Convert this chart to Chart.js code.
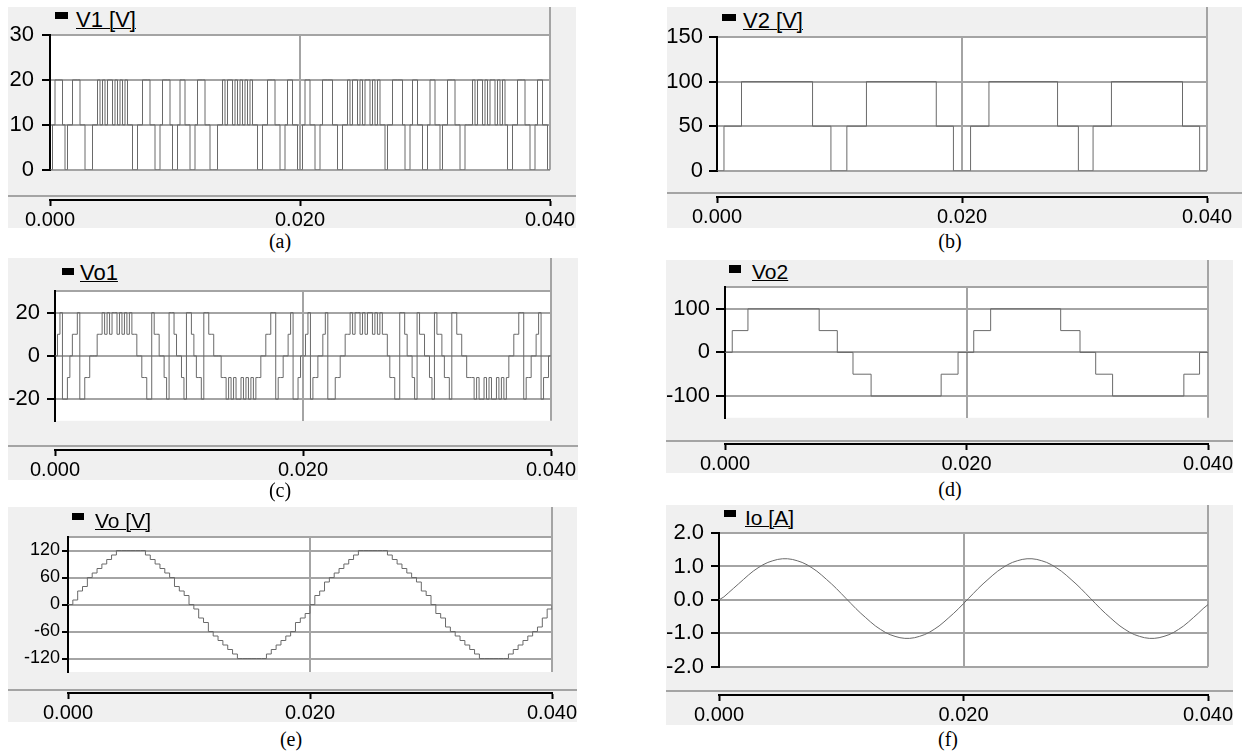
<!DOCTYPE html>
<html>
<head>
<meta charset="utf-8">
<script src="https://cdn.jsdelivr.net/npm/chart.js@4.4.0/dist/chart.umd.min.js"></script>
<style>
  body { margin: 0; background: #fff; width: 1242px; height: 753px; position: relative; overflow: hidden;
         font-family: "Liberation Sans", Arial, sans-serif; }
  .panel { position: absolute; background: #f0f0f0; overflow: hidden; }
  .panel canvas { position: absolute; }
  .sep { position: absolute; left: 0; right: 0; height: 2px; background: #a4a4a4; }
  .sq { position: absolute; background: #000; }
  .key { position: absolute; color: #000; text-decoration: underline; text-decoration-thickness: 1px; white-space: nowrap; }
  .cap { position: absolute; font-family: "Liberation Serif", "Times New Roman", serif; font-size: 20px;
         line-height: 20px; transform: translateX(-50%); }
</style>
</head>
<body>
<script>
// time axis, seconds
const tMax = 0.04;
const timeTicks = [0, 0.02, 0.04];

// y tick values per plot
const v1Ticks = [0, 10, 20, 30];
const v2Ticks = [0, 50, 100, 150];
const vo1Ticks = [-20, 0, 20];
const vo2Ticks = [-100, 0, 100];
const voTicks = [-120, -60, 0, 60, 120];
const ioTicks = [-2, -1, 0, 1, 2];

// switching traces, one value per 0.2 ms
const swDt = 0.0002;
const v1Vals = [
  0,10,20,20,20,10,0,10,10,20, 20,20,10,10,0,0,0,10,10,20, 10,20,10,20,20,10,20,10,20,10,
  20,10,10,0,0,10,10,20,20,20, 10,10,0,0,10,20,20,20,10,0,
  0,10,20,20,10,10,0,0,10,20, 20,20,10,10,0,0,0,10,10,20, 10,20,20,10,20,10,20,10,20,10,
  20,10,10,0,0,10,10,20,20,20, 10,10,0,0,10,20,20,10,10,0,
  0,10,20,20,10,10,0,0,10,20, 20,20,20,10,10,0,0,10,10,20, 10,20,20,10,20,10,20,20,10,20,
  10,20,10,10,0,10,10,20,20,20, 20,10,0,0,10,20,20,10,10,0,
  0,10,20,20,10,10,0,10,10,20, 20,20,10,10,0,0,10,10,10,20, 10,20,20,10,20,10,20,20,10,20,
  10,20,10,0,0,10,10,20,20,20, 10,10,0,0,10,20,20,10,10,0,
  0
];
const vo1Vals = [
  0,10,20,-20,-20,-10,0,10,10,20, -20,-20,-10,-10,0,0,0,10,10,20, 10,20,10,20,20,10,20,10,20,10,
  20,10,10,0,0,-10,-10,-20,-20,20, 10,10,0,0,-10,-20,20,20,10,0,
  0,-10,-20,20,20,10,0,-10,-10,-20, 20,20,10,10,0,0,0,-10,-10,-20, -10,-20,-10,-20,-20,-10,-20,-10,-20,-10,
  -20,-10,-10,0,0,10,10,20,20,-20, -10,-10,0,0,10,20,-20,-20,-10,0,
  0,10,20,-20,-10,-10,0,0,10,20, -20,-20,-20,-10,-10,0,0,10,10,20, 10,20,20,10,20,10,20,20,10,20,
  10,20,10,10,0,-10,-10,-20,-20,20, 20,10,0,0,-10,-20,20,10,10,0,
  0,-10,-20,20,10,10,0,-10,-10,-20, 20,20,10,10,0,0,-10,-10,-10,-20, -10,-20,-20,-10,-20,-10,-20,-20,-10,-20,
  -10,-20,-10,0,0,10,10,20,20,-20, -10,-10,0,0,10,20,-20,-10,-10,0,
  0
];

// stepped traces given by their switching instants
const v2Times = [0, 0.00057, 0.0020, 0.0078, 0.0093, 0.0106, 0.0122, 0.0179, 0.0193,
                 0.0207, 0.0222, 0.0278, 0.0295, 0.0307, 0.0322, 0.0380, 0.0394, 0.04];
const v2Vals = [0, 50, 100, 50, 0, 50, 100, 50, 0, 50, 100, 50, 0, 50, 100, 50, 0, 0];
const vo2Times = [0, 0.0006, 0.0019, 0.0078, 0.0093, 0.0106, 0.0121, 0.0179, 0.0193,
                  0.0206, 0.0220, 0.0278, 0.0294, 0.0307, 0.0321, 0.0380, 0.0393, 0.04];
const vo2Vals = [0, 50, 100, 50, 0, -50, -100, -50, 0, 50, 100, 50, 0, -50, -100, -50, 0, 0];

// output voltage and current, one value per 0.4 ms
const outDt = 0.0004;
const voVals = [
  0,10,30,40,60,70,80,90,100,110, 120,120,120,120,120,120,110,100,90,80, 70,60,40,30,20,
  0,-10,-30,-40,-60,-70,-80,-90,-100,-110, -120,-120,-120,-120,-120,-120,-110,-100,-90,-80, -70,-60,-40,-30,-20,
  0,20,30,50,60,70,80,90,100,110, 120,120,120,120,120,120,110,100,90,80, 70,60,50,30,20,
  0,-20,-30,-50,-60,-70,-80,-90,-100,-110, -120,-120,-120,-120,-120,-120,-110,-100,-90,-80, -70,-60,-50,-30,-10,
  0
];
const ioVals = [
  0.00,0.09,0.22,0.35,0.48,0.61,0.74,0.86,0.96,1.05, 1.12,1.17,1.21,1.23,1.23,1.21,1.17,1.12,1.05,0.96,
  0.86,0.74,0.61,0.48,0.34, 0.19,0.04,-0.11,-0.26,-0.40, -0.53,-0.66,-0.78,-0.88,-0.97, -1.04,-1.09,-1.13,-1.15,-1.15,
  -1.13,-1.09,-1.04,-0.97,-0.88, -0.78,-0.66,-0.53,-0.40,-0.26,
  -0.11,0.04,0.19,0.34,0.48,0.61,0.74,0.86,0.96,1.05, 1.12,1.17,1.21,1.23,1.23,1.21,1.17,1.12,1.05,0.96,
  0.86,0.74,0.61,0.48,0.34, 0.19,0.04,-0.11,-0.26,-0.40, -0.53,-0.66,-0.78,-0.88,-0.97, -1.04,-1.09,-1.13,-1.15,-1.15,
  -1.13,-1.09,-1.04,-0.97,-0.88, -0.78,-0.66,-0.53,-0.40,-0.26,
  -0.14
];

Chart.defaults.font.family = '"Liberation Sans", Arial, sans-serif';
Chart.defaults.color = '#000';

const gridGrey = '#a4a4a4';
const traceGrey = '#6a6a6a';

const byTime = (t, v) => t.map((x, i) => ({x, y: v[i]}));
const bySample = (dt, v) => v.map((y, i) => ({x: i * dt, y}));

// white plot area with the grey top and right edge
const plotFrame = {
  id: 'plotFrame',
  beforeDraw(chart) {
    const {ctx, chartArea: a} = chart;
    ctx.save();
    ctx.fillStyle = '#fff';
    ctx.fillRect(a.left, a.top, a.right - a.left, a.bottom - a.top);
    ctx.strokeStyle = gridGrey;
    ctx.lineWidth = 2;
    ctx.beginPath();
    ctx.moveTo(a.left, a.top);
    ctx.lineTo(a.right, a.top);
    ctx.moveTo(a.right, 0);
    ctx.lineTo(a.right, a.bottom);
    ctx.stroke();
    ctx.restore();
  }
};

function addPanel(p) {
  const [bl, bt, br, bb] = p.box;
  const [pl, pt, pr, pb] = p.plot;
  const div = document.createElement('div');
  div.className = 'panel';
  div.style.left = bl + 'px';
  div.style.top = bt + 'px';
  div.style.width = (br - bl) + 'px';
  div.style.height = (bb - bt) + 'px';
  document.body.appendChild(div);

  const sep = document.createElement('div');
  sep.className = 'sep';
  sep.style.top = (p.sepY - bt - 1) + 'px';
  div.appendChild(sep);

  const sq = document.createElement('div');
  sq.className = 'sq';
  sq.style.left = (p.key.sq[0] - bl) + 'px';
  sq.style.top = (p.key.sq[1] - bt) + 'px';
  sq.style.width = p.key.sq[2] + 'px';
  sq.style.height = p.key.sq[3] + 'px';
  div.appendChild(sq);

  const key = document.createElement('span');
  key.className = 'key';
  key.textContent = p.key.text;
  key.style.fontSize = p.key.size + 'px';
  key.style.lineHeight = p.key.size + 'px';
  key.style.left = (p.key.x - bl) + 'px';
  key.style.top = (p.key.base - bt - 0.85 * p.key.size) + 'px';
  div.appendChild(key);

  const main = document.createElement('canvas');
  main.width = br - bl;
  main.height = pb - bt + 14;
  main.style.left = '0px';
  main.style.top = '0px';
  div.appendChild(main);

  new Chart(main, {
    type: 'line',
    data: {
      datasets: [{
        data: p.data,
        stepped: p.stepped,
        borderColor: traceGrey,
        borderWidth: 1,
        pointRadius: 0,
        fill: false,
        tension: 0
      }]
    },
    options: {
      responsive: false,
      animation: false,
      events: [],
      layout: {padding: {left: 0, top: pt - bt, right: br - pr, bottom: 14}},
      plugins: {legend: {display: false}, tooltip: {enabled: false}},
      scales: {
        x: {
          type: 'linear', min: 0, max: tMax,
          afterBuildTicks: s => { s.ticks = [{value: timeTicks[1]}]; },
          afterFit: s => { s.height = 0; },
          ticks: {display: false},
          grid: {color: gridGrey, lineWidth: 2, drawTicks: false},
          border: {display: false}
        },
        y: {
          min: p.yMin, max: p.yMax,
          afterBuildTicks: s => { s.ticks = p.yTicks.map(value => ({value})); },
          afterFit: s => { s.width = pl - bl; },
          ticks: {font: {size: p.yFont}, padding: p.yPad, callback: v => v.toFixed(p.dec)},
          grid: {color: gridGrey, lineWidth: 2, tickLength: p.tick, tickColor: '#000', tickWidth: 2},
          border: {color: '#000', width: 2}
        }
      }
    },
    plugins: [plotFrame]
  });

  // time axis sits in its own strip under the separator
  const ax = document.createElement('canvas');
  ax.width = br - bl;
  ax.height = 41;
  ax.style.left = '0px';
  ax.style.top = (p.axisY - bt - 8) + 'px';
  div.appendChild(ax);

  new Chart(ax, {
    type: 'line',
    data: {datasets: []},
    options: {
      responsive: false,
      animation: false,
      events: [],
      layout: {padding: {left: pl - bl, right: br - pr, top: 0, bottom: 0}},
      plugins: {legend: {display: false}, tooltip: {enabled: false}},
      scales: {
        x: {
          type: 'linear', min: 0, max: tMax,
          afterBuildTicks: s => { s.ticks = timeTicks.map(value => ({value})); },
          afterFit: s => { s.paddingLeft = 0; s.paddingRight = 0; s.height = 33; },
          ticks: {font: {size: 20}, padding: 2, maxRotation: 0, autoSkip: false, callback: v => v.toFixed(3)},
          grid: {drawOnChartArea: false, tickLength: 6, tickColor: '#000', tickWidth: 2},
          border: {color: '#000', width: 2}
        },
        y: {display: false}
      }
    }
  });

  const cap = document.createElement('div');
  cap.className = 'cap';
  cap.textContent = p.cap.text;
  cap.style.left = p.cap.x + 'px';
  cap.style.top = (p.cap.y - 10) + 'px';
  document.body.appendChild(cap);
}

addPanel({
  box: [8, 7, 576, 228], plot: [50, 35, 550, 177], sepY: 196, axisY: 200,
  yMin: 0, yMax: 30, yTicks: v1Ticks, dec: 0, yFont: 22, tick: 8, yPad: 8,
  data: bySample(swDt, v1Vals), stepped: true,
  key: {text: 'V1 [V]', sq: [55, 12, 13, 7], x: 76, base: 28, size: 22},
  cap: {text: '(a)', x: 280, y: 241}
});
addPanel({
  box: [667, 7, 1242, 228], plot: [717, 37, 1207, 176], sepY: 193, axisY: 197,
  yMin: 0, yMax: 150, yTicks: v2Ticks, dec: 0, yFont: 22, tick: 8, yPad: 6,
  data: byTime(v2Times, v2Vals), stepped: true,
  key: {text: 'V2 [V]', sq: [722, 14, 14, 7], x: 743, base: 29, size: 22},
  cap: {text: '(b)', x: 950, y: 241}
});
addPanel({
  box: [8, 258, 578, 480], plot: [55, 291, 551, 427], sepY: 446, axisY: 450,
  yMin: -30, yMax: 30, yTicks: vo1Ticks, dec: 0, yFont: 22, tick: 8, yPad: 7,
  data: bySample(swDt, vo1Vals), stepped: true,
  key: {text: 'Vo1', sq: [62, 268, 12, 7], x: 80, base: 281, size: 22},
  cap: {text: '(c)', x: 280, y: 490}
});
addPanel({
  box: [666, 260, 1233, 473], plot: [725, 287, 1208, 423], sepY: 441, axisY: 444,
  yMin: -150, yMax: 150, yTicks: vo2Ticks, dec: 0, yFont: 22, tick: 9, yPad: 6,
  data: byTime(vo2Times, vo2Vals), stepped: true,
  key: {text: 'Vo2', sq: [729, 265, 12, 8], x: 752, base: 279, size: 21},
  cap: {text: '(d)', x: 950, y: 489}
});
addPanel({
  box: [8, 507, 577, 722], plot: [68, 537, 552, 672], sepY: 690, axisY: 693,
  yMin: -150, yMax: 150, yTicks: voTicks, dec: 0, yFont: 18, tick: 6, yPad: 2,
  data: bySample(outDt, voVals), stepped: true,
  key: {text: 'Vo [V]', sq: [72, 513, 12, 7], x: 95, base: 528, size: 21},
  cap: {text: '(e)', x: 291, y: 739}
});
addPanel({
  box: [666, 505, 1233, 725], plot: [719, 533, 1208, 673], sepY: 691, axisY: 695,
  yMin: -2, yMax: 2, yTicks: ioTicks, dec: 1, yFont: 22, tick: 8, yPad: 7,
  data: bySample(outDt, ioVals), stepped: false,
  key: {text: 'Io [A]', sq: [724, 510, 12, 7], x: 745, base: 525, size: 21},
  cap: {text: '(f)', x: 948, y: 739}
});
</script>
</body>
</html>
